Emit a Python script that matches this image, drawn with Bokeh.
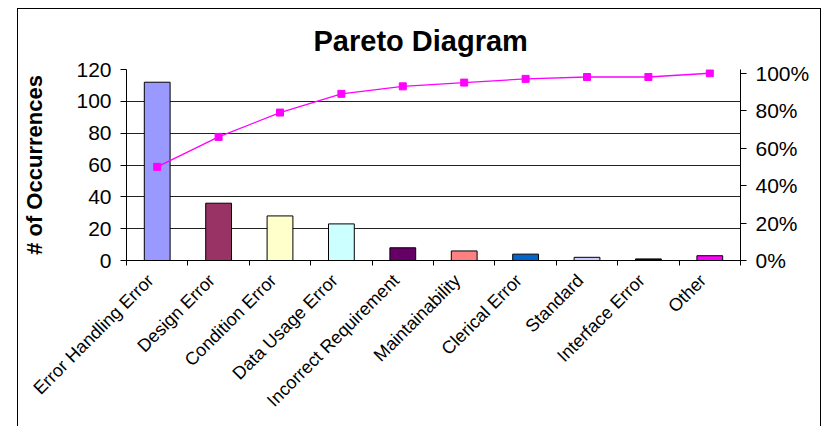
import math
from bokeh.plotting import figure
from bokeh.models import (Range1d, LinearAxis, FixedTicker,
                          NumeralTickFormatter, ColumnDataSource)
from bokeh.embed import file_html
from bokeh.resources import INLINE

# ---- data ----
categories = ["Error Handling Error", "Design Error", "Condition Error",
              "Data Usage Error", "Incorrect Requirement", "Maintainability",
              "Clerical Error", "Standard", "Interface Error", "Other"]
occurrences = [112, 36, 28, 23, 8, 6, 4, 2, 1, 3]
cumulative_pct = [0.50, 0.66, 0.79, 0.89, 0.93, 0.95, 0.97, 0.98, 0.98, 1.00]
count_ticks = [0, 20, 40, 60, 80, 100, 120]
pct_ticks = [0, 0.2, 0.4, 0.6, 0.8, 1.0]

# ---- styles ----
bar_colors = ["#9999FF", "#993366", "#FFFFCC", "#CCFFFF", "#660066",
              "#FF8080", "#0066CC", "#CCCCFF", "#000080", "#FF00FF"]
FONT = "Liberation Sans"
TEXT = "#000000"
LINE_COLOR = "#FF00FF"
LABEL_SHIFT = 0.11   # slanted labels sit slightly left of the slot centre

n = len(categories)
centers = [i + 0.5 for i in range(n)]        # category slots on the x scale
bounds = list(range(n + 1))                  # slot boundaries
label_pos = [c - LABEL_SHIFT for c in centers]

src = ColumnDataSource(dict(x=centers, count=occurrences,
                            cum=cumulative_pct, color=bar_colors))

p = figure(width=802, height=420,
           x_range=Range1d(0, n),
           y_range=Range1d(0, 120),
           x_axis_location=None,
           output_backend="svg", toolbar_location=None,
           min_border_left=108, min_border_right=80,
           min_border_top=59, min_border_bottom=169)
p.styles = {"margin-left": "18px", "margin-top": "9px",
            "outline": "1px solid black"}
p.outline_line_color = None
p.background_fill_color = "white"
p.border_fill_color = "white"

# title
p.title.text = "Pareto Diagram"
p.title.text_font = FONT
p.title.text_font_size = "29px"
p.title.text_font_style = "bold"
p.title.text_color = TEXT
p.title.align = "left"
p.title.offset = 187
p.title.standoff = 26

# left axis
lax = p.left[0]
lax.ticker = FixedTicker(ticks=count_ticks)
lax.axis_label = "# of Occurrences"
lax.axis_label_text_font = FONT
lax.axis_label_text_font_size = "22px"
lax.axis_label_text_font_style = "bold"
lax.axis_label_text_color = TEXT
lax.axis_label_standoff = 26
lax.major_label_text_font = FONT
lax.major_label_text_font_size = "21px"
lax.major_label_text_color = TEXT
lax.major_label_standoff = 9
lax.major_tick_out = 6
lax.major_tick_in = 0
lax.minor_tick_out = 0
lax.minor_tick_in = 0
lax.axis_line_color = "black"
lax.major_tick_line_color = "black"

# grid
p.xgrid.visible = False
p.ygrid.ticker = FixedTicker(ticks=count_ticks)
p.ygrid.grid_line_color = "#222222"
p.ygrid.grid_line_width = 1

# right axis
p.extra_y_ranges = {"pct": Range1d(0, 1.02)}
rax = LinearAxis(y_range_name="pct", ticker=FixedTicker(ticks=pct_ticks),
                 formatter=NumeralTickFormatter(format="0%"))
rax.major_label_text_font = FONT
rax.major_label_text_font_size = "21px"
rax.major_label_text_color = TEXT
rax.major_label_standoff = 9
rax.major_tick_out = 6
rax.major_tick_in = 0
rax.minor_tick_out = 0
rax.minor_tick_in = 0
rax.axis_line_color = "black"
p.add_layout(rax, "right")

# bottom axis: labels at slot centres, ticks at slot boundaries
bax = LinearAxis(ticker=FixedTicker(ticks=label_pos, minor_ticks=bounds))
bax.major_label_overrides = {c: name for c, name in zip(label_pos, categories)}
bax.major_label_orientation = math.pi / 4
bax.major_label_text_font = FONT
bax.major_label_text_font_size = "18px"
bax.major_label_text_color = TEXT
bax.major_label_standoff = 12
bax.major_tick_out = 0
bax.major_tick_in = 0
bax.minor_tick_out = 5
bax.minor_tick_in = 0
bax.minor_tick_line_color = "black"
bax.axis_line_color = "black"
p.add_layout(bax, "below")

# bars
p.vbar(x="x", top="count", width=0.42, source=src,
       fill_color="color", line_color="black", line_width=1)

# cumulative line
p.line(x="x", y="cum", y_range_name="pct", source=src,
       line_color=LINE_COLOR, line_width=1.3)
p.scatter(x="x", y="cum", y_range_name="pct", source=src,
          marker="square", size=7, fill_color=LINE_COLOR, line_color=LINE_COLOR)

open("out.html", "w").write(file_html(p, INLINE))
